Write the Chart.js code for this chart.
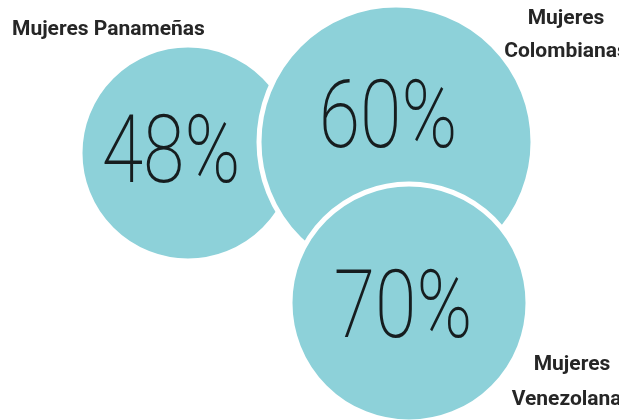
<!DOCTYPE html>
<html>
<head>
<meta charset="utf-8">
<script src="https://cdn.jsdelivr.net/npm/chart.js@4.4.1/dist/chart.umd.min.js"></script>
<style>
    html, body { margin: 0; padding: 0; background: #ffffff; }
    #wrap { width: 619px; height: 420px; position: relative; }
</style>
</head>
<body>
<div id="wrap"><canvas id="bubbles" width="619" height="420"></canvas></div>
<script>
// names shown beside each bubble (one entry per line)
const categories = [
    ['Mujeres Panameñas'],
    ['Mujeres', 'Colombianas'],
    ['Mujeres', 'Venezolanas']
];
const percentages = [48, 60, 70];

// bubble layout on a 619 x 420 grid
const bubbleX = [188, 396, 409];
const bubbleY = [153, 142, 303];
const bubbleR = [108, 137, 119];

// where the big percentage sits relative to each bubble centre
const valueOffsetX = [-17, -8, -6];
const valueOffsetY = [29, 5, 34];

// category name anchors
const nameX = [12, 566, 572];
const nameY = [35, 24, 370];
const nameAlign = ['left', 'center', 'center'];
const nameLineGap = [0, 33, 35];

const points = percentages.map((v, i) => ({ x: bubbleX[i], y: bubbleY[i], r: bubbleR[i], v: v }));

const bubbleText = {
    id: 'bubbleText',
    afterDatasetsDraw(chart) {
        const ctx = chart.ctx;
        const meta = chart.getDatasetMeta(0);

        ctx.save();
        ctx.fillStyle = '#161d1f';
        ctx.textAlign = 'center';
        ctx.textBaseline = 'alphabetic';
        ctx.font = '200 94px Roboto';
        meta.data.forEach((el, i) => {
            ctx.save();
            ctx.translate(el.x + valueOffsetX[i], el.y + valueOffsetY[i]);
            ctx.scale(0.8, 1);
            ctx.fillText(percentages[i] + '%', 0, 0);
            ctx.restore();
        });

        ctx.fillStyle = '#262626';
        ctx.font = 'bold 21px Roboto';
        categories.forEach((lines, i) => {
            ctx.textAlign = nameAlign[i];
            lines.forEach((line, k) => {
                ctx.fillText(line, nameX[i], nameY[i] + k * nameLineGap[i]);
            });
        });
        ctx.restore();
    }
};

new Chart(document.getElementById('bubbles'), {
    type: 'bubble',
    data: {
        labels: categories.map(l => l.join(' ')),
        datasets: [{
            data: points,
            backgroundColor: '#8dd1d9',
            borderColor: '#ffffff',
            borderWidth: 5,
            hoverBorderWidth: 5,
            clip: false
        }]
    },
    options: {
        responsive: false,
        animation: false,
        layout: { padding: 0, autoPadding: false },
        plugins: {
            legend: { display: false },
            tooltip: { enabled: false }
        },
        scales: {
            x: { type: 'linear', min: 0, max: 619, display: false },
            y: { type: 'linear', min: 0, max: 420, reverse: true, display: false }
        }
    },
    plugins: [bubbleText]
});
</script>
</body>
</html>
